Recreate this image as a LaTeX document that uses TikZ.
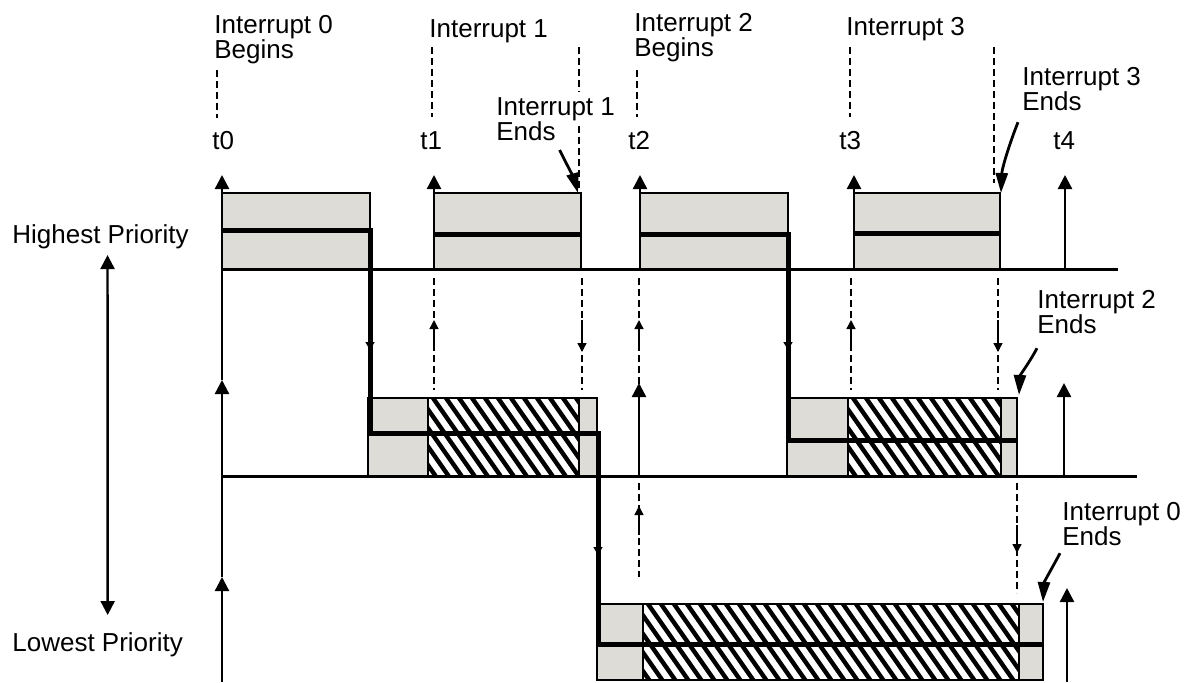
\documentclass[tikz,border=0pt]{standalone}
\usepackage{fontspec}
\setmainfont{Liberation Sans}
\usetikzlibrary{arrows.meta}
\definecolor{boxgray}{RGB}{221,220,215}

\begin{document}
\begin{tikzpicture}[x=0.5pt,y=-0.5pt,
		label/.style={anchor=north west,inner sep=0pt,align=left,font=\fontsize{13}{12.5}\selectfont},
		band/.style={line width=1.5pt},
		axis/.style={line width=1.2pt,-{Triangle[width=7pt,length=7pt]}},
		busy/.style={draw,line width=1pt,fill=boxgray},
		stripe/.style={line width=2.2pt},
		level/.style={line width=2.5pt},
		guide/.style={line width=0.7pt,dash pattern=on 3.5pt off 2pt},
		nudge/.style={line width=0.7pt,-{Triangle[width=4.5pt,length=4.5pt]}},
		tick/.style={line width=0.8pt,-{Triangle[width=4.5pt,length=4pt]}},
		pointer/.style={line width=1.4pt,-{Triangle[width=6pt,length=10pt]}}]
	\useasboundingbox (0,0) rectangle (1185,682);

	% busy periods
	\foreach \xa/\xb in {222/370,434/581,640/788,854/1000}
		\draw[busy] (\xa,193) rectangle (\xb,269);
	\draw[busy] (368,398) rectangle (597,476);
	\draw[busy] (787,398) rectangle (1017,476);
	\draw[busy] (597,604) rectangle (1043,680);
	\foreach \xa/\ya/\xb/\yb in {428/398/579/476,848/398/1001/476,643/604/1019/680} {
		\pgfmathsetmacro\h{\yb-\ya}
		\begin{scope}
			\clip (\xa,\ya) rectangle (\xb,\yb);
			\fill[white] (\xa,\ya) rectangle (\xb,\yb);
			\foreach \k in {0,...,36}
				\draw[stripe] (\xa-60+13*\k,\ya) -- ++(0.7*\h,\h);
		\end{scope}
		\draw[line width=1pt] (\xa,\ya) rectangle (\xb,\yb);
	}

	% priority levels
	\draw[band] (222,269) -- (1118,269);
	\draw[band] (222,476) -- (1137,476);

	% time marks
	\draw[guide] (217,70) -- (217,118);
	\draw[guide] (432,47) -- (432,117);
	\draw[guide] (579,47) -- (579,92);
	\draw[guide] (579,126) -- (579,188);
	\draw[guide] (637,70) -- (637,117);
	\draw[guide] (850,47) -- (850,117);
	\draw[guide] (994,47) -- (994,183);
	\foreach \x in {434,582,639,851,998}
		\draw[guide] (\x,278) -- (\x,390);
	\foreach \x in {434,639,851}
		\draw[nudge] (\x,348) -- (\x,320);
	\foreach \x in {582,998}
		\draw[nudge] (\x,320) -- (\x,352);
	\draw[guide] (639,483) -- (639,577);
	\draw[nudge] (639,535) -- (639,506);
	\draw[guide] (1017,483) -- (1017,593);
	\draw[nudge] (1017,525) -- (1017,553);

	% interrupt arrivals
	\draw[axis] (222,682) -- (222,577);
	\draw[axis] (222,577) -- (222,380);
	\draw[axis] (222,380) -- (222,175);
	\foreach \x in {434,640,854,1065}
		\draw[axis] (\x,269) -- (\x,175);
	\draw[axis] (639,476) -- (639,383);
	\draw[axis] (1064,476) -- (1064,383);
	\draw[axis] (1067,682) -- (1067,588);

	% running level
	\draw[level] (222,230) -- (370,230) -- (370,433) -- (598,433) -- (598,644) -- (1043,644);
	\draw[level] (434,234) -- (581,234);
	\draw[level] (640,234) -- (788,234) -- (788,440) -- (1017,440);
	\draw[level] (854,233) -- (1000,233);
	\draw[tick] (370,330) -- (370,350);
	\draw[tick] (788,330) -- (788,350);
	\draw[tick] (598,535) -- (598,555);

	% labels
	\node[label] (int0b) at (214,15) {Interrupt 0\\Begins};
	\node[label] (int1) at (429,19) {Interrupt 1};
	\node[label] (int1e) at (496,97) {Interrupt 1\\Ends};
	\node[label] (int2b) at (634,13) {Interrupt 2\\Begins};
	\node[label] (int3) at (846,17) {Interrupt 3};
	\node[label] (int3e) at (1022,67) {Interrupt 3\\Ends};
	\node[label] (int2e) at (1037,290) {Interrupt 2\\Ends};
	\node[label] (int0e) at (1062,502) {Interrupt 0\\Ends};
	\node[label] (hi) at (12,224) {Highest Priority};
	\node[label] (lo) at (12,632) {Lowest Priority};
	\foreach \n/\x in {0/212,1/420,2/628,3/839,4/1053}
		\node[label] (t\n) at (\x,131) {t\n};

	\coordinate (end1) at (578,193);
	\coordinate (end3) at (1001,193);
	\coordinate (end2) at (1019,395);
	\coordinate (end0) at (1043,602);
	\draw[pointer] ([xshift=2pt,yshift=-4.5pt]int1e.south) .. controls +(6,12) and +(-4,-14) .. (end1);
	\draw[pointer] ([xshift=-2pt,yshift=-5.5pt]int3e.south west) .. controls +(-8,20) and +(1,-25) .. (end3);
	\draw[pointer] ([yshift=-7pt]int2e.south west) .. controls +(-8,15) and +(1,-20) .. (end2);
	\draw[pointer] ([xshift=-1pt,yshift=-3.5pt]int0e.south west) .. controls +(-8,15) and +(1,-20) .. (end0);
	\draw[line width=1.2pt,{Triangle[width=7pt,length=7pt]}-{Triangle[width=7pt,length=7pt]}]
		([xshift=3.5pt,yshift=-3pt]hi.south) -- ([xshift=5pt,yshift=8.5pt]lo.north);
\end{tikzpicture}
\end{document}
